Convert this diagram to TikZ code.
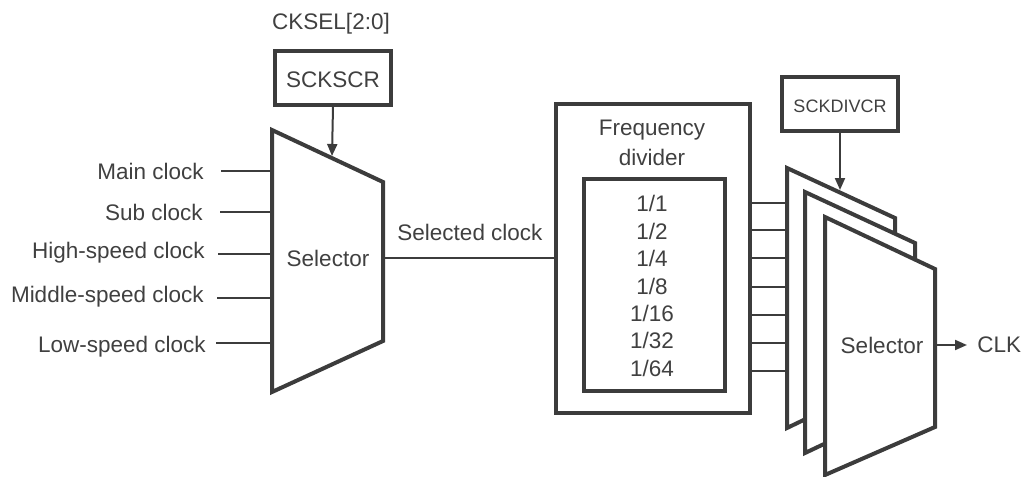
\documentclass[tikz,border=0pt]{standalone}
\usepackage{fontspec}
\setmainfont{Liberation Sans}
\usetikzlibrary{arrows.meta}
\definecolor{ink}{HTML}{3C3C3C}
\definecolor{txt}{HTML}{404040}
\tikzset{
  thickline/.style={draw=ink, line width=2pt, line join=miter},
  thinline/.style={draw=ink, line width=1pt},
  lbl/.style={inner sep=0pt, text=txt, font=\fontsize{11.25}{13}\selectfont},
  smalllbl/.style={inner sep=0pt, text=txt, font=\fontsize{9}{11}\selectfont},
  arr/.style={thinline, -{Triangle[length=6pt,width=5pt]}, color=ink},
}
\begin{document}
\begin{tikzpicture}[x=0.5pt,y=-0.5pt]
\useasboundingbox (0,0) rectangle (1024,477);
% top register
\node[lbl] (cksel) at (331,24) {CKSEL[2:0]};
\node[thickline, minimum width=58pt, minimum height=27pt, inner sep=0pt] (sckscr) at (333,78) {};
\node[lbl] (sckscrtxt) at (333,80) {SCKSCR};
% selector 1
\coordinate (s1tl) at (272,130);
\coordinate (s1tr) at (383,182);
\coordinate (s1br) at (383,341);
\coordinate (s1bl) at (272,392);
\draw[thickline, fill=white] (s1tl) -- (s1tr) -- (s1br) -- (s1bl) -- cycle;
\node[lbl] (sel1) at (328,258) {Selector};
\coordinate (s1in) at (332,156);
\draw[arr] (sckscr.south) -- (s1in);
% inputs
\node[lbl, anchor=east] (main) at (204,171) {Main clock};
\node[lbl, anchor=east] (sub) at (203,212) {Sub clock};
\node[lbl, anchor=east] (high) at (205,253) {High-speed clock};
\node[lbl, anchor=east] (mid) at (204,297) {Middle-speed clock};
\node[lbl, anchor=east] (low) at (206,347) {Low-speed clock};
\coordinate (i1) at (272,171);
\coordinate (i2) at (272,212);
\coordinate (i3) at (272,254);
\coordinate (i4) at (272,298);
\coordinate (i5) at (272,343);
\draw[thinline] (221,171) coordinate (m0) -- (i1);
\draw[thinline] (220,212) coordinate (su0) -- (i2);
\draw[thinline] (218,254) coordinate (h0) -- (i3);
\draw[thinline] (217,298) coordinate (mi0) -- (i4);
\draw[thinline] (216,343) coordinate (lo0) -- (i5);
% frequency divider
\node[thickline, minimum width=97pt, minimum height=154.5pt, inner sep=0pt] (fd) at (653,258.5) {};
\node[lbl] (fdtxt1) at (652,130) {Frequency};
\node[lbl] (fdtxt2) at (652,157) {divider};
\node[thickline, minimum width=70.5pt, minimum height=106pt, inner sep=0pt] (fdin) at (654.5,285) {};
\foreach \n/\d/\y [count=\i] in {1/1/203,1/2/231,1/4/258,1/8/286,1/16/313,1/32/340,1/64/368}{
  \node[lbl] (fr\i) at (652,\y) {\n/\d};
}
\coordinate (s1out) at (383,258);
\draw[thinline] (s1out) -- (fd.west |- s1out);
\node[lbl] (seltxt) at (470,232) {Selected clock};
% stacked selectors
\coordinate (s2tl) at (787,168);
\coordinate (s2tr) at (895,218);
\coordinate (s2br) at (895,376);
\coordinate (s2bl) at (787,428);
\draw[thickline, fill=white] (s2tl) -- (s2tr) -- (s2br) -- (s2bl) -- cycle;
\coordinate (s3tl) at (805,192);
\coordinate (s3tr) at (915,243);
\coordinate (s3br) at (915,401);
\coordinate (s3bl) at (805,453);
\draw[thickline, fill=white] (s3tl) -- (s3tr) -- (s3br) -- (s3bl) -- cycle;
\coordinate (s4tl) at (825,217);
\coordinate (s4tr) at (935,269);
\coordinate (s4br) at (935,427);
\coordinate (s4bl) at (825,475);
\draw[thickline, fill=white] (s4tl) -- (s4tr) -- (s4br) -- (s4bl) -- cycle;
\node[lbl] (sel2) at (882,345) {Selector};
% divider outputs
\foreach \y [count=\i] in {203,230,258,287,315,343,371}{
  \coordinate (d\i) at (786,\y);
  \draw[thinline] (fd.east |- d\i) -- (d\i);
}
% SCKDIVCR
\node[thickline, minimum width=58pt, minimum height=27pt, inner sep=0pt] (sckdiv) at (840,104) {};
\node[smalllbl] (sckdivtxt) at (840,106) {SCKDIVCR};
\coordinate (s2in) at (840,190);
\draw[arr] (sckdiv.south) -- (s2in);
% output
\coordinate (s4out) at (935,345);
\node[lbl, anchor=west] (clk) at (977,345) {CLK};
\coordinate (clkin) at (967,345);
\draw[arr] (s4out) -- (clkin);
\end{tikzpicture}
\end{document}
